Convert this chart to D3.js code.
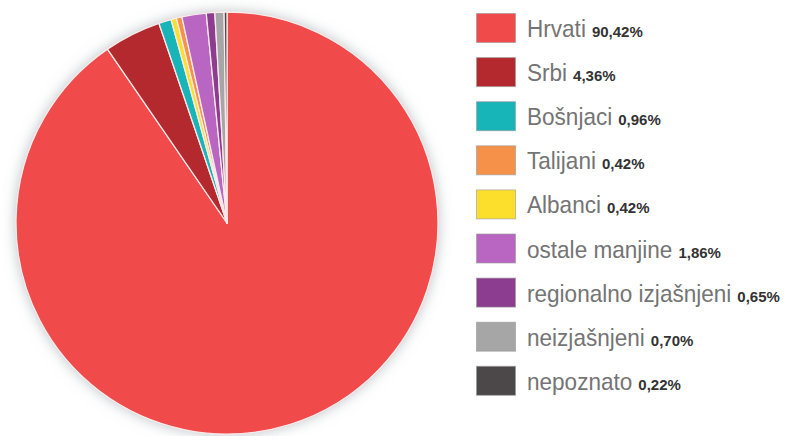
<!DOCTYPE html>
<html>
<head>
<meta charset="utf-8">
<script src="https://cdn.jsdelivr.net/npm/d3@7"></script>
<style>
  html, body { margin: 0; padding: 0; background: #ffffff; }
  svg { display: block; }
</style>
</head>
<body>
<div id="chart"></div>
<script>
const categories = ["Hrvati", "Srbi", "Bošnjaci", "Talijani", "Albanci", "ostale manjine", "regionalno izjašnjeni", "neizjašnjeni", "nepoznato"];
const shares = [90.42, 4.36, 0.96, 0.42, 0.42, 1.86, 0.65, 0.70, 0.22];
const shareLabels = ["90,42%", "4,36%", "0,96%", "0,42%", "0,42%", "1,86%", "0,65%", "0,70%", "0,22%"];
const colors = ["#f04a4a", "#b3292e", "#17b4b8", "#f6914a", "#fbdf2c", "#b866c2", "#8c3d90", "#a6a6a6", "#4c4748"];
// order of slices clockwise from 12 o'clock, as in the picture
const pieOrder = [0, 1, 2, 4, 3, 5, 6, 7, 8];

const width = 796;
const height = 436;
const cx = 227, cy = 223, radius = 211;

const svg = d3.select("#chart").append("svg").attr("width", width).attr("height", height);

const defs = svg.append("defs");
const shadow = defs.append("filter").attr("id", "shadow").attr("x", "-20%").attr("y", "-20%").attr("width", "140%").attr("height", "140%");
shadow.append("feGaussianBlur").attr("in", "SourceAlpha").attr("stdDeviation", 7).attr("result", "blur");
shadow.append("feFlood").attr("flood-color", "#8a9096").attr("flood-opacity", 0.6);
shadow.append("feComposite").attr("in2", "blur").attr("operator", "in").attr("result", "sh");
const merge = shadow.append("feMerge");
merge.append("feMergeNode").attr("in", "sh");
merge.append("feMergeNode").attr("in", "SourceGraphic");

const pieData = pieOrder.map(i => ({ i, value: shares[i] }));
const pie = d3.pie().value(d => d.value).sort(null);
const arc = d3.arc().innerRadius(0).outerRadius(radius);

const pieGroup = svg.append("g").attr("transform", `translate(${cx},${cy})`);
pieGroup.append("circle").attr("r", radius).attr("fill", "#fff").attr("filter", "url(#shadow)");
pieGroup.selectAll("path").data(pie(pieData)).join("path")
  .attr("d", arc)
  .attr("fill", d => colors[d.data.i])
  .attr("stroke", "#fbeaea")
  .attr("stroke-width", 1.3)
  .attr("stroke-linejoin", "round");

// legend
const legendX = 476, legendY = 13, rowStep = 44.1;
const labelX = 51, baseY = 24, squeeze = 0.94;
const legend = svg.append("g");
const rows = legend.selectAll("g").data(categories).join("g")
  .attr("transform", (d, i) => `translate(${legendX},${legendY + i * rowStep})`);

rows.append("rect")
  .attr("x", 0.5).attr("y", 0.5)
  .attr("width", 39).attr("height", 29)
  .attr("fill", (d, i) => colors[i])
  .attr("stroke", "#9a9a9a").attr("stroke-opacity", 0.6).attr("stroke-width", 1);

rows.append("text")
  .attr("transform", `translate(${labelX},${baseY}) scale(${squeeze},1)`)
  .style("font-family", "'Liberation Sans', Arial, sans-serif")
  .style("font-size", "24px")
  .style("fill", "#747474")
  .text(d => d);

rows.each(function (d, i) {
  const g = d3.select(this);
  const w = g.select("text").node().getComputedTextLength() * squeeze;
  g.append("text")
    .attr("x", labelX + w + 6).attr("y", baseY)
    .style("font-family", "'Liberation Sans', Arial, sans-serif")
    .style("font-weight", "700")
    .style("font-size", "15px")
    .style("fill", "#333")
    .text(shareLabels[i]);
});
</script>
</body>
</html>
